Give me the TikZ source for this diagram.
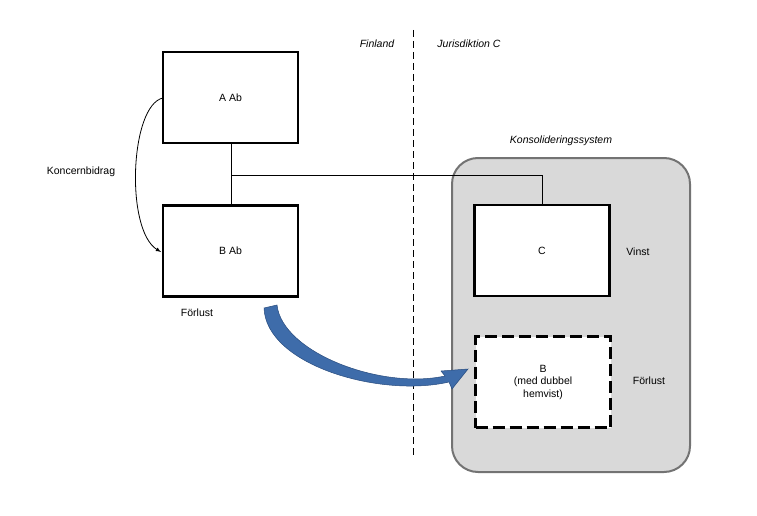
\documentclass[tikz,border=0pt]{standalone}
\usepackage{fontspec}
\setmainfont{Liberation Sans}
\definecolor{arr}{RGB}{62,108,170}
\definecolor{arrd}{RGB}{40,75,125}
\begin{document}
\begin{tikzpicture}[x=1pt,y=-1pt,font=\fontsize{10.5}{12.5}\selectfont,
 box/.style={draw,line width=2.4pt,fill=white,minimum width=135pt,minimum height=91pt,inner sep=0pt,align=center},
 lab/.style={inner sep=1pt}]
\useasboundingbox (0,0) rectangle (757,516);
\node[draw=black!55,line width=2pt,fill=black!15,rounded corners=26pt,minimum width=238pt,minimum height=314pt] (sys) at (571,315) {};
\draw[dash pattern=on 7pt off 4pt,line width=0.8pt] (413,30) -- (413,458);
\node[lab,font=\fontsize{10.5}{12.5}\selectfont\itshape] (fi) at (377,44) {Finland};
\node[lab,font=\fontsize{10.5}{12.5}\selectfont\itshape] (jc) at (469,44) {Jurisdiktion C};
\node[lab,font=\fontsize{10.5}{12.5}\selectfont\itshape] (ks) at (561,141) {Konsolideringssystem};
\node[box] (a) at (230.5,97.5) {A Ab};
\node[box] (b) at (230.5,251) {B Ab};
\node[box] (c) at (542,250.5) {C};
\node[box,dash pattern=on 12pt off 5pt] (bd) at (543,382) {B\\(med dubbel\\hemvist)};
\node[lab] (kb) at (81,172) {Koncernbidrag};
\node[lab] (fb) at (197,313) {Förlust};
\node[lab] (v) at (638,252) {Vinst};
\node[lab] (f2) at (649,381) {Förlust};
\coordinate (j) at (231,175);
\draw[line width=0.8pt] (a.south -| j) -- (b.north -| j);
\draw[line width=0.8pt] (j) -- (j -| c.north) -- (c.north);
\draw[line width=0.8pt,-latex] (163,98) .. controls (130,105) and (125,230) .. (161,252);
\fill[arr,draw=arrd,line width=0.5pt]
 (264,308) .. controls (266,365) and (380,398) .. (449,382)
 -- (452,389) -- (468,369) -- (441,371) -- (445,376)
 .. controls (380,390) and (282,352) .. (277,305) -- cycle;
\end{tikzpicture}
\end{document}
